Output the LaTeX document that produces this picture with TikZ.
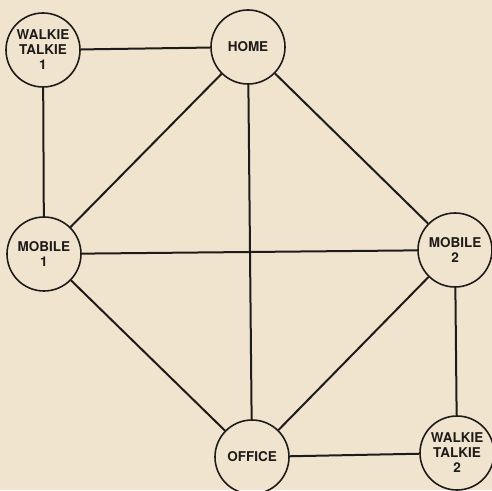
\documentclass[tikz,border=0pt]{standalone}
\usepackage{fontspec}
\setmainfont{TeX Gyre Heros}
\usepackage{tikz}
\definecolor{paperbeige}{RGB}{240,228,206}
\definecolor{inkgray}{RGB}{30,28,26}

\begin{document}
\begin{tikzpicture}[
  x=1pt, y=1pt,
  font=\bfseries\fontsize{13.5}{15}\selectfont,
  stn/.style={draw=inkgray, circle, line width=1.6pt, minimum size=74pt,
              inner sep=0pt, align=center, text=inkgray},
  link/.style={inkgray, line width=2pt}
]
\fill[paperbeige] (0,0) rectangle (492,490);
\useasboundingbox (0,0) rectangle (492,490);

\node[stn] (wt1) at (43,440) {WALKIE\\TALKIE\\1};
\node[stn] (home) at (248,443) {HOME};
\node[stn] (mob1) at (44,236) {MOBILE\\1};
\node[stn] (mob2) at (455,240) {MOBILE\\2};
\node[stn] (office) at (252,33) {OFFICE};
\node[stn] (wt2) at (457,37) {WALKIE\\TALKIE\\2};

\draw[link] (wt1) -- (home);
\draw[link] (wt1) -- (mob1);
\draw[link] (home) -- (mob1);
\draw[link] (home) -- (office);
\draw[link] (home) -- (mob2);
\draw[link] (mob1) -- (mob2);
\draw[link] (mob1) -- (office);
\draw[link] (mob2) -- (office);
\draw[link] (mob2) -- (wt2);
\draw[link] (office) -- (wt2);
\end{tikzpicture}
\end{document}
